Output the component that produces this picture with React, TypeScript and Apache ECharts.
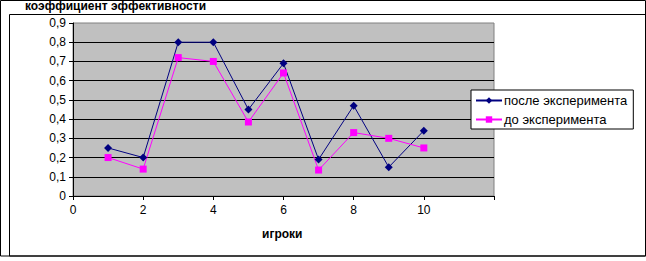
import React, { useEffect, useRef } from "react";
import * as echarts from "echarts";

const players = [1, 2, 3, 4, 5, 6, 7, 8, 9, 10];
const afterValues = [0.25, 0.2, 0.8, 0.8, 0.45, 0.69, 0.19, 0.47, 0.15, 0.34];
const beforeValues = [0.2, 0.14, 0.72, 0.7, 0.385, 0.64, 0.135, 0.33, 0.3, 0.25];
const seriesNames = ["после эксперимента", "до эксперимента"];
const titleText = "коэффициент эффективности";
const xAxisName = "игроки";

const FONT = "'Liberation Sans', Arial, sans-serif";

export default function App() {
  const ref = useRef<HTMLDivElement>(null);
  useEffect(() => {
    if (!ref.current) return;
    const chart = echarts.init(ref.current, undefined, { renderer: "svg" });
    chart.setOption({
      animation: false,
      backgroundColor: "#ffffff",
      textStyle: { fontFamily: FONT },
      graphic: [
        {
          type: "rect",
          shape: { x: 0.5, y: 0.5, width: 645, height: 255.5 },
          style: { fill: "none", stroke: "#000", lineWidth: 1 },
          silent: true,
        },
        {
          type: "rect",
          shape: { x: 9.5, y: 14.5, width: 636, height: 241.5 },
          style: { fill: "none", stroke: "#000", lineWidth: 1 },
          silent: true,
        },
        {
          type: "text",
          left: 25,
          top: 0,
          style: {
            text: titleText,
            font: "bold 12px " + FONT,
            fill: "#000",
          },
        },
        {
          type: "text",
          left: 262,
          top: 228,
          style: {
            text: xAxisName,
            font: "bold 12px " + FONT,
            fill: "#000",
          },
        },
      ],
      legend: {
        orient: "vertical",
        left: 471,
        top: 90,
        backgroundColor: "#ffffff",
        borderColor: "#000",
        borderWidth: 1,
        borderRadius: 0,
        padding: [4, 6, 3, 4],
        itemWidth: 26,
        itemHeight: 8,
        itemGap: 6,
        textStyle: { fontFamily: FONT, fontSize: 13, color: "#000", padding: [0, 0, 0, -3] },
        data: seriesNames,
      },
      grid: {
        left: 73,
        top: 23,
        right: 152,
        bottom: 65,
        show: true,
        backgroundColor: "#c0c0c0",
        borderColor: "#808080",
        borderWidth: 1,
      },
      xAxis: {
        type: "value",
        min: 0,
        max: 12,
        interval: 2,
        axisLine: { show: true, lineStyle: { color: "#000", width: 1 } },
        axisTick: { show: true, length: 4, lineStyle: { color: "#000" } },
        axisLabel: {
          color: "#000",
          fontSize: 12,
          fontFamily: FONT,
          margin: 8,
          formatter: (v: number) => (v === 12 ? "" : String(v)),
        },
        splitLine: { show: false },
      },
      yAxis: {
        type: "value",
        min: 0,
        max: 0.9,
        interval: 0.1,
        axisLine: { show: true, lineStyle: { color: "#000", width: 1 } },
        axisTick: { show: true, length: 4, lineStyle: { color: "#000" } },
        axisLabel: {
          color: "#000",
          fontSize: 12,
          fontFamily: FONT,
          margin: 7,
          formatter: (v: number) => (Math.round(v * 10) / 10).toString().replace(".", ","),
        },
        splitLine: {
          show: true,
          showMaxLine: false,
          showMinLine: false,
          lineStyle: { color: "#000", width: 1 },
        },
      },
      series: [
        {
          name: seriesNames[0],
          type: "line",
          data: players.map((p, i) => [p, afterValues[i]]),
          symbol: "diamond",
          symbolSize: 8,
          lineStyle: { color: "#000080", width: 1 },
          itemStyle: { color: "#000080" },
        },
        {
          name: seriesNames[1],
          type: "line",
          data: players.map((p, i) => [p, beforeValues[i]]),
          symbol: "rect",
          symbolSize: 7,
          lineStyle: { color: "#ff00ff", width: 1 },
          itemStyle: { color: "#ff00ff" },
        },
      ],
    });
    return () => chart.dispose();
  }, []);
  return (
    <div
      ref={ref}
      style={{ position: "absolute", left: 0, top: 0, width: 646, height: 261 }}
    />
  );
}
